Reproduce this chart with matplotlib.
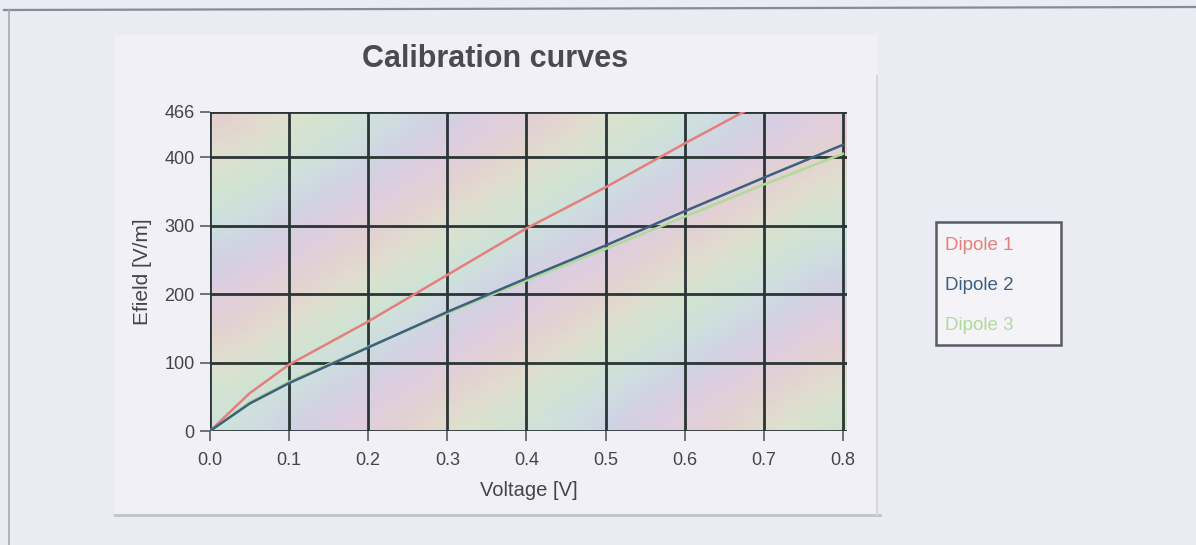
"""
Calibration curves - E-field vs. applied voltage for three dipoles.
"""

import colorsys

import numpy as np
import matplotlib
matplotlib.use("Agg")
import matplotlib.pyplot as plt
from matplotlib.lines import Line2D
from matplotlib.patches import Rectangle

plt.rcParams["font.family"] = ["Liberation Sans", "DejaVu Sans"]

# =============================================================================
# DATA
# =============================================================================

voltage = [0.0, 0.05, 0.1, 0.2, 0.3, 0.4, 0.5, 0.6, 0.7, 0.8]

dipole1 = [0, 55, 97, 160, 228, 296, 356, 420, 482, 545]
dipole2 = [0, 40, 70, 122, 174, 223, 271, 321, 370, 418]
dipole3 = [0, 42, 72, 123, 172, 220, 266, 313, 360, 405]

series_names = ["Dipole 1", "Dipole 2", "Dipole 3"]
series_colors = ["#e4807c", "#3d5f80", "#b0da98"]

x_ticks = [0.0, 0.1, 0.2, 0.3, 0.4, 0.5, 0.6, 0.7, 0.8]
y_ticks = [0, 100, 200, 300, 400, 466]

X_MAX, Y_MAX = 0.8, 466

W, H = 1196, 545
BG = "#ebebf3"
PANEL = "#f0f0f6"
GRID = "#2a3535"
TXT = "#44444c"


def _fx(px):
    return px / W


def _fy(py):
    return 1 - py / H


def _pastel_pattern(n_rows=14, n_cols=18):
    """Soft, muted diagonal rainbow tint used as the plot-area background."""
    img = np.zeros((n_rows, n_cols, 3))
    for r in range(n_rows):
        for c in range(n_cols):
            hue = ((r + c) / 9.0) % 1.0
            img[r, c] = colorsys.hls_to_rgb(hue, 0.85, 0.26)
    return img


def main():
    fig = plt.figure(figsize=(W / 100, H / 100), dpi=100, facecolor=BG)

    # ── screenshot window frame / chart panel ───────────────────────────────
    fig.add_artist(Line2D([_fx(4), 1.0], [_fy(10), _fy(7)], color="#8a8a96",
                          lw=1.6, transform=fig.transFigure))
    fig.add_artist(Line2D([_fx(9), _fx(9)], [0.0, _fy(10)], color="#a8a8b2",
                          lw=1.2, transform=fig.transFigure))
    fig.add_artist(Rectangle((_fx(115), _fy(515)), _fx(763), (515 - 35) / H,
                             facecolor=PANEL, edgecolor="none",
                             transform=fig.transFigure, zorder=-1))
    fig.add_artist(Line2D([_fx(115), _fx(880)], [_fy(515), _fy(515)],
                          color="#c2c2ca", lw=2.0, transform=fig.transFigure))
    fig.add_artist(Line2D([_fx(877), _fx(877)], [_fy(515), _fy(76)],
                          color="#d6d6de", lw=1.5, transform=fig.transFigure))

    ax = fig.add_axes([_fx(210), _fy(431), _fx(843 - 210) * 1.006, (431 - 112) / H])

    # ── pastel background ───────────────────────────────────────────────────
    ax.imshow(_pastel_pattern(), extent=[0, X_MAX + 0.005, 0, Y_MAX],
              aspect="auto", interpolation="bicubic", zorder=0)

    # ── curves ──────────────────────────────────────────────────────────────
    for vals, col in zip([dipole3, dipole1, dipole2],
                         [series_colors[2], series_colors[0], series_colors[1]]):
        ax.plot(voltage, vals, color=col, lw=1.8, zorder=3)

    # ── axes / grid ─────────────────────────────────────────────────────────
    ax.set_xlim(0, X_MAX + 0.005)
    ax.set_ylim(0, Y_MAX)
    ax.set_xticks(x_ticks)
    ax.set_xticklabels([f"{v:.1f}" for v in x_ticks])
    ax.set_yticks(y_ticks)
    ax.grid(True, color=GRID, lw=2.0, zorder=2)
    ax.set_axisbelow(False)
    for sp in ax.spines.values():
        sp.set_visible(False)
    ax.tick_params(axis="both", colors="#5a5a64", labelcolor=TXT,
                   labelsize=13, length=7, width=1.2, pad=4)
    ax.tick_params(axis="x", pad=8)

    ax.set_xlabel("Voltage [V]", fontsize=14.5, color=TXT, labelpad=9)
    ax.set_ylabel("Efield [V/m]", fontsize=15, color=TXT, labelpad=9)
    fig.text(_fx(495), _fy(59), "Calibration curves", fontsize=22,
             fontweight="bold", color="#4a4a52", ha="center", va="center")

    # ── legend: box with coloured labels, no handles ────────────────────────
    fig.add_artist(Rectangle((_fx(936), _fy(345)), _fx(125), (345 - 222) / H,
                             facecolor="#f3f3f8", edgecolor="#5a5a64", lw=1.8,
                             transform=fig.transFigure))
    for i, (name, col) in enumerate(zip(series_names, series_colors)):
        fig.text(_fx(945), _fy(245 + 40 * i), name, fontsize=13.5, color=col,
                 ha="left", va="center")

    fig.savefig("out.png", dpi=100, facecolor=BG)
    plt.close(fig)


if __name__ == "__main__":
    main()
